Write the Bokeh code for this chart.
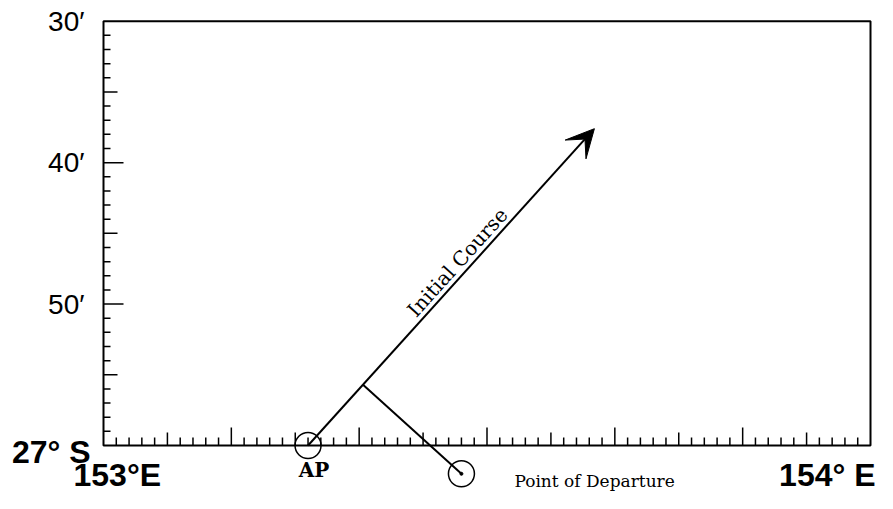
import math
import numpy as np
from bokeh.plotting import figure
from bokeh.models import Arrow, VeeHead
from bokeh.core.properties import value
from bokeh.embed import file_html
from bokeh.resources import INLINE

# ---- data (minutes: x = minutes east of 153°E, y = minutes north of 27°S) ----
lon_extent = [0, 60]
lat_extent = [0, 30]
lat_label_values = [10, 20, 30]
lat_labels = ["50\u2032", "40\u2032", "30\u2032"]
corner_lat_label = "27° S"
lon_labels = ["153°E", "154° E"]

ap = [16.0, 0.0]                 # assumed position (AP)
departure = [28.0, -2.0]         # point of departure
course_end = [38.4, 22.4]        # tip of initial course arrow
perp_foot = [20.3, 4.3]          # foot of perpendicular on the course line

minute_ticks_lat = list(range(1, 30))
minute_ticks_lon = list(range(1, 60))

# ---- layout ----
W, H = 877, 493
px_per_lon = 767 / 60.0
px_per_lat = 424.3 / 30.0
x0 = lon_extent[0] - 103 / px_per_lon
x1 = x0 + W / px_per_lon
y1 = lat_extent[1] + 20.7 / px_per_lat
y0 = y1 - H / px_per_lat

p = figure(width=W, height=H, x_range=(x0, x1), y_range=(y0, y1),
           output_backend="svg", toolbar_location=None, min_border=0)
p.axis.visible = False
p.grid.visible = False
p.outline_line_color = None
p.background_fill_color = "white"
p.border_fill_color = "white"

# border of the plotting sheet
p.quad(left=[lon_extent[0]], right=[lon_extent[1]], bottom=[lat_extent[0]], top=[lat_extent[1]],
       fill_color=None, line_color="black", line_width=2)

def tick_len(m, major, medium, minor):
    if m % 10 == 0:
        return major
    if m % 5 == 0:
        return medium
    return minor

# latitude ticks (left side, pointing inward)
p.ray(x=[lon_extent[0]] * len(minute_ticks_lat), y=minute_ticks_lat,
      length=[tick_len(m, 20, 14, 7) for m in minute_ticks_lat],
      angle=0, length_units="screen", line_color="black", line_width=1.5)
# longitude ticks (bottom side, pointing inward)
p.ray(x=minute_ticks_lon, y=[lat_extent[0]] * len(minute_ticks_lon),
      length=[tick_len(m, 18, 13, 8) for m in minute_ticks_lon],
      angle=math.pi / 2, length_units="screen", line_color="black", line_width=1.5)

# latitude labels
p.text(x=[lon_extent[0]] * len(lat_labels), y=lat_label_values, text=lat_labels,
       text_align="right", text_baseline="middle", x_offset=-19, y_offset=0,
       text_font=value("Liberation Sans"), text_font_size="28px", text_color="black")
p.text(x=[lon_extent[0]], y=[lat_extent[0]], text=[corner_lat_label],
       text_align="right", text_baseline="middle", x_offset=-13, y_offset=6,
       text_font=value("Liberation Sans"), text_font_style="bold",
       text_font_size="32px", text_color="black")
# longitude labels
p.text(x=[lon_extent[0]], y=[lat_extent[0]], text=[lon_labels[0]],
       text_align="left", text_baseline="middle", x_offset=-30, y_offset=29,
       text_font=value("Liberation Sans"), text_font_style="bold",
       text_font_size="32px", text_color="black")
p.text(x=[lon_extent[1]], y=[lat_extent[0]], text=[lon_labels[1]],
       text_align="right", text_baseline="middle", x_offset=5, y_offset=29,
       text_font=value("Liberation Sans"), text_font_style="bold",
       text_font_size="32px", text_color="black")

# initial course arrow
p.add_layout(Arrow(end=VeeHead(size=28, fill_color="black", line_color="black"),
                   x_start=ap[0], y_start=ap[1], x_end=course_end[0], y_end=course_end[1],
                   line_color="black", line_width=2))

# perpendicular from point of departure to the course line
p.line(x=[perp_foot[0], departure[0]], y=[perp_foot[1], departure[1]],
       line_color="black", line_width=2)

# circles
p.scatter(x=[ap[0], departure[0]], y=[ap[1], departure[1]], marker="circle", size=26,
          fill_color=None, line_color="black", line_width=1.5)
p.scatter(x=[departure[0]], y=[departure[1]], marker="circle", size=3,
          fill_color="black", line_color="black")

# course label along the line (shifted perpendicular to the line, above it)
dx_px = (course_end[0] - ap[0]) * px_per_lon
dy_px = (course_end[1] - ap[1]) * px_per_lat
ang = math.atan2(dy_px, dx_px)
t = 0.553
perp = 12.0
lx = ap[0] + t * (course_end[0] - ap[0]) - perp * math.sin(ang) / px_per_lon
ly = ap[1] + t * (course_end[1] - ap[1]) + perp * math.cos(ang) / px_per_lat
p.text(x=[lx], y=[ly], text=["Initial Course"], angle=ang,
       text_align="center", text_baseline="middle",
       text_font=value("DejaVu Serif"), text_font_size="20px", text_color="black")

# AP and point of departure labels
p.text(x=[ap[0]], y=[ap[1]], text=["AP"], text_align="center", text_baseline="middle",
       x_offset=6, y_offset=24, text_font=value("DejaVu Serif"), text_font_style="bold",
       text_font_size="20px", text_color="black")
p.text(x=[departure[0]], y=[departure[1]], text=["Point of Departure"], text_align="left",
       text_baseline="middle", x_offset=53, y_offset=7,
       text_font=value("DejaVu Serif"), text_font_size="17px", text_color="black")

open("out.html", "w").write(file_html(p, INLINE))
